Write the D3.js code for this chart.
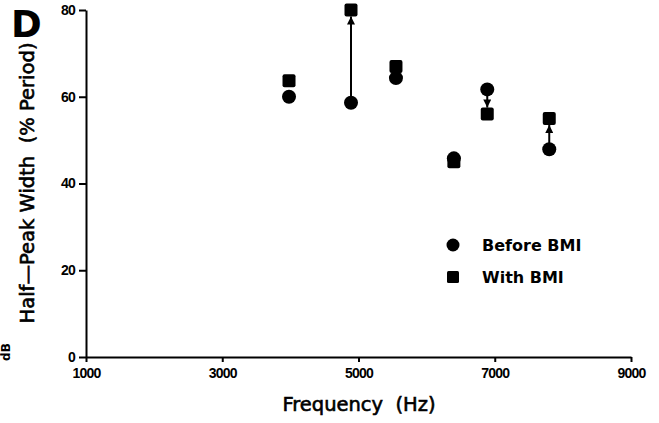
<!DOCTYPE html>
<html>
<head>
<meta charset="utf-8">
<script src="https://cdn.jsdelivr.net/npm/d3@7"></script>
<style>
  html, body { margin: 0; padding: 0; background: #fff; }
  svg { display: block; }
  text { font-family: "DejaVu Sans", sans-serif; fill: #000; }
  .tick text { font-family: "Liberation Sans", Arial, sans-serif; font-weight: bold; font-size: 14px; letter-spacing: -0.8px; }
</style>
</head>
<body>
<svg id="chart" width="659" height="423"></svg>
<script>
// values
const freqs = [3980, 4890, 5550, 6400, 6890, 7800];
const beforeBMI = [60.0, 58.6, 64.3, 45.8, 61.7, 47.9];
const withBMI = [63.7, 80.0, 67.0, 45.0, 56.0, 55.0];
const xTicks = [1000, 3000, 5000, 7000, 9000];
const yTicks = [0, 20, 40, 60, 80];
const legendLabels = ['Before BMI', 'With BMI'];

const svg = d3.select('#chart');
svg.append('rect').attr('width', 659).attr('height', 423).attr('fill', '#fff');

const x = d3.scaleLinear().domain([1000, 9000]).range([86, 631]);
const y = d3.scaleLinear().domain([0, 80]).range([357, 10]);

// arrowhead
svg.append('defs').append('marker')
  .attr('id', 'arrow')
  .attr('viewBox', '0 0 10 10')
  .attr('refX', 10).attr('refY', 5)
  .attr('markerWidth', 11).attr('markerHeight', 8)
  .attr('markerUnits', 'userSpaceOnUse')
  .attr('orient', 'auto')
  .append('path')
  .attr('d', 'M0,0 L10,5 L0,10 Z')
  .attr('fill', '#000');

// axes
const yAxis = svg.append('g')
  .attr('transform', `translate(${x(1000)},0)`)
  .call(d3.axisLeft(y).tickValues(yTicks).tickSize(7).tickSizeOuter(0).tickPadding(4).tickFormat(d3.format('d')));
const xAxis = svg.append('g')
  .attr('transform', `translate(0,${y(0)})`)
  .call(d3.axisBottom(x).tickValues(xTicks).tickSize(5).tickSizeOuter(0).tickPadding(6).tickFormat(d3.format('d')));
[yAxis, xAxis].forEach(g => {
  g.select('.domain').attr('stroke', '#000').attr('stroke-width', 2);
  g.selectAll('.tick line').attr('stroke', '#000').attr('stroke-width', 2);
  g.selectAll('.tick text').attr('fill', '#000');
});

// arrows from before -> with where the markers don't overlap
freqs.forEach((f, i) => {
  const y0 = y(beforeBMI[i]), y1 = y(withBMI[i]);
  if (Math.abs(y1 - y0) < 18) return;
  const dir = y1 < y0 ? -1 : 1;
  svg.append('line')
    .attr('x1', x(f)).attr('x2', x(f))
    .attr('y1', y0 + dir * 6)
    .attr('y2', y1 - dir * 6.5)
    .attr('stroke', '#000').attr('stroke-width', 2)
    .attr('marker-end', 'url(#arrow)');
});

// markers
svg.selectAll('circle.before')
  .data(freqs)
  .join('circle')
  .attr('class', 'before')
  .attr('cx', d => x(d))
  .attr('cy', (d, i) => y(beforeBMI[i]))
  .attr('r', 7)
  .attr('fill', '#000');

svg.selectAll('rect.with')
  .data(freqs)
  .join('rect')
  .attr('class', 'with')
  .attr('x', d => x(d) - 6.5)
  .attr('y', (d, i) => y(withBMI[i]) - 6.5)
  .attr('width', 13).attr('height', 13)
  .attr('rx', 2)
  .attr('fill', '#000');

// legend
const legend = svg.append('g').attr('transform', 'translate(453,245)');
legend.append('circle').attr('r', 6.5).attr('fill', '#000');
legend.append('rect').attr('x', -6).attr('y', 26).attr('width', 12).attr('height', 12).attr('rx', 1.5).attr('fill', '#000');
legend.selectAll('text')
  .data(legendLabels)
  .join('text')
  .attr('x', 29)
  .attr('y', (d, i) => i * 32 + 6)
  .attr('font-size', 16)
  .attr('font-weight', 'bold')
  .text(d => d);

// titles
svg.append('text')
  .attr('x', 359).attr('y', 411)
  .attr('text-anchor', 'middle')
  .attr('font-size', 19.5)
  .style('white-space', 'pre')
  .attr('stroke', '#000').attr('stroke-width', 0.6)
  .text('Frequency  (Hz)');

svg.append('text')
  .attr('transform', 'translate(34,183) rotate(-90)')
  .attr('text-anchor', 'middle')
  .attr('font-family', '"DejaVu Sans Condensed", "DejaVu Sans", sans-serif')
  .attr('font-size', 19)
  .attr('textLength', 281)
  .attr('lengthAdjust', 'spacingAndGlyphs')
  .style('white-space', 'pre')
  .attr('stroke', '#000').attr('stroke-width', 0.6)
  .text('Half\u2014Peak Width  (% Period)');

// panel letter
svg.append('text')
  .attr('x', 11).attr('y', 37)
  .attr('font-family', 'Liberation Sans, Arial, sans-serif')
  .attr('font-weight', 'bold')
  .attr('font-size', 37)
  .text('D');

// label fragment from the neighbouring panel at the left edge
svg.append('text')
  .attr('transform', 'translate(10,352) rotate(-90)')
  .attr('text-anchor', 'middle')
  .attr('font-size', 12)
  .attr('font-weight', 'bold')
  .text('dB');
</script>
</body>
</html>
